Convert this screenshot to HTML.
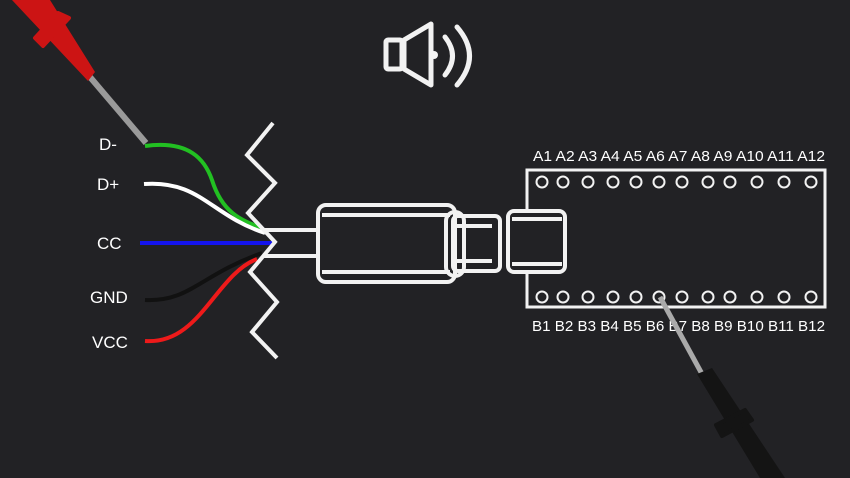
<!DOCTYPE html>
<html><head><meta charset="utf-8"><style>
html,body{margin:0;padding:0;background:#222225;}
svg{display:block}
text{font-family:"Liberation Sans",sans-serif;fill:#fff;}
</style></head><body>
<svg width="850" height="478" viewBox="0 0 850 478" xmlns="http://www.w3.org/2000/svg">
<rect width="850" height="478" fill="#222225"/>
<!-- speaker -->
<g fill="none" stroke="#f2f2f2" stroke-width="5" stroke-linejoin="round" stroke-linecap="round">
<rect x="386" y="40" width="16" height="29" rx="2"/>
<path d="M404 40 L431 24 L431 85 L404 69 Z"/>
<circle cx="434" cy="55" r="4" fill="#f2f2f2" stroke="none"/>
<path d="M445 37 Q460 56 445 75"/>
<path d="M457 27 Q482 56 457 85"/>
</g>
<!-- labels -->
<g font-size="17">
<text x="99" y="150">D-</text>
<text x="97" y="190">D+</text>
<text x="97" y="249">CC</text>
<text x="90" y="303">GND</text>
<text x="92" y="348">VCC</text>
</g>
<!-- wires -->
<g fill="none" stroke-width="4">
<path d="M145 146 C190 140 205 160 212 180 C222 212 240 220 262 228" stroke="#22c022"/>
<path d="M144 184 C200 180 210 215 265 233" stroke="#fff"/>
<path d="M140 243 L272 243" stroke="#1414ee"/>
<path d="M145 300 C190 302 200 275 262 253" stroke="#111"/>
<path d="M145 341 C200 345 215 275 257 259" stroke="#ee1a1a"/>
</g>
<!-- cable -->
<g stroke="#f2f2f2" stroke-width="4" fill="none">
<line x1="264" y1="230" x2="318" y2="230"/>
<line x1="264" y1="256" x2="318" y2="256"/>
<polyline points="273,123 247,155 275,183 248,213 275,242 250,272 277,302 252,332 277,358" stroke-linejoin="miter"/>
<!-- plug -->
<rect x="318" y="205" width="137" height="77" rx="8"/>
<line x1="322" y1="215" x2="450" y2="215"/>
<line x1="322" y1="272" x2="450" y2="272"/>
<rect x="446" y="212" width="18" height="64" rx="9"/>
<rect x="453" y="216" width="47" height="55" rx="5"/>
<line x1="456" y1="226" x2="492" y2="226"/>
<line x1="456" y1="261" x2="492" y2="261"/>
<rect x="508" y="211" width="57" height="61" rx="6"/>
<line x1="512" y1="219" x2="562" y2="219"/>
<line x1="512" y1="264" x2="562" y2="264"/>
<!-- board -->
<path d="M527 210 L527 170 L825 170 L825 307 L527 307 L527 272" stroke-width="3"/>
</g>
<g fill="none" stroke="#f2f2f2" stroke-width="2">
<circle cx="542" cy="182" r="5.5"/><circle cx="563" cy="182" r="5.5"/><circle cx="588" cy="182" r="5.5"/><circle cx="613" cy="182" r="5.5"/><circle cx="636" cy="182" r="5.5"/><circle cx="659" cy="182" r="5.5"/><circle cx="682" cy="182" r="5.5"/><circle cx="708" cy="182" r="5.5"/><circle cx="730" cy="182" r="5.5"/><circle cx="757" cy="182" r="5.5"/><circle cx="784" cy="182" r="5.5"/><circle cx="811" cy="182" r="5.5"/>
<circle cx="542" cy="297" r="5.5"/><circle cx="563" cy="297" r="5.5"/><circle cx="588" cy="297" r="5.5"/><circle cx="613" cy="297" r="5.5"/><circle cx="636" cy="297" r="5.5"/><circle cx="659" cy="297" r="5.5"/><circle cx="682" cy="297" r="5.5"/><circle cx="708" cy="297" r="5.5"/><circle cx="730" cy="297" r="5.5"/><circle cx="757" cy="297" r="5.5"/><circle cx="784" cy="297" r="5.5"/><circle cx="811" cy="297" r="5.5"/>
</g>
<text x="533" y="161" font-size="15" textLength="292" lengthAdjust="spacingAndGlyphs">A1 A2 A3 A4 A5 A6 A7 A8 A9 A10 A11 A12</text>
<text x="532" y="331" font-size="15" textLength="293" lengthAdjust="spacingAndGlyphs">B1 B2 B3 B4 B5 B6 B7 B8 B9 B10 B11 B12</text>
<!-- red probe -->
<line x1="90" y1="77" x2="146" y2="143" stroke="#9a9a9a" stroke-width="6"/>
<path d="M12 0 L50 0 L95 72 L88 81 Z" fill="#cc1414"/>
<path d="M35 38 L58 13 L69 18 L43 46 Z" fill="#cc1414" stroke="#cc1414" stroke-width="4" stroke-linejoin="round"/>
<!-- black probe -->
<line x1="660" y1="297" x2="702" y2="374" stroke="#aaa" stroke-width="5"/>
<path d="M697 374 L712 368 L785 478 L760 478 Z" fill="#141414"/>
<path d="M716 425 L745 410 L752 420 L722 436 Z" fill="#141414" stroke="#141414" stroke-width="4" stroke-linejoin="round"/>
</svg>
</body></html>
